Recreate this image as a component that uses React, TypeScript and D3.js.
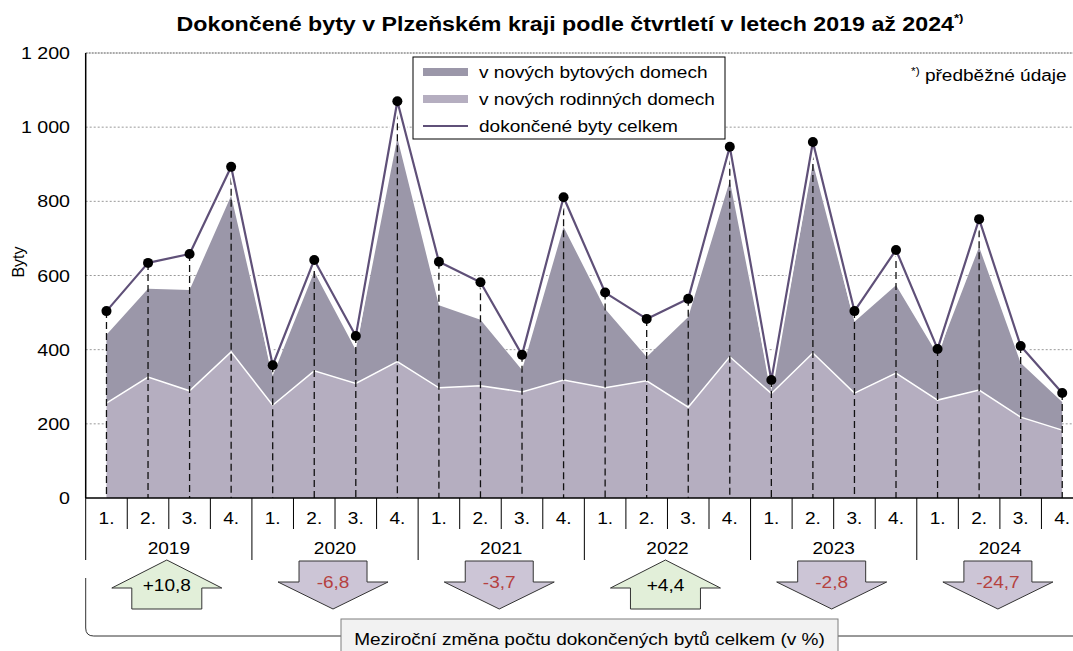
import * as d3 from 'd3';

// values
const years = ['2019', '2020', '2021', '2022', '2023', '2024'];
const quarters = ['1.', '2.', '3.', '4.'];
const celkem = [504, 634, 658, 893, 358, 642, 437, 1070, 637, 582, 386, 811, 554, 483, 537, 947, 318, 960, 504, 669, 402, 752, 410, 283];
const rodinne = [256, 326, 289, 394, 250, 343, 309, 368, 297, 303, 286, 318, 297, 316, 245, 381, 282, 391, 283, 337, 264, 291, 218, 183];
const bytove = [184, 238, 272, 421, 80, 267, 90, 603, 223, 178, 59, 413, 213, 64, 243, 474, 8, 512, 192, 237, 122, 386, 146, 76];
const mezirocni = [10.8, -6.8, -3.7, 4.4, -2.8, -24.7];
const yTicks = [0, 200, 400, 600, 800, 1000, 1200];

const W = 1073;
const H = 651;
const FONT = '"Liberation Sans", Arial, sans-serif';
const C_BYT = '#9b97a9';
const C_ROD = '#b5aec0';
const C_LINE = '#5f5078';
const SX = 1.19; // text in the reference is horizontally stretched

const left = 85.7;
const right = 1083;
const top = 53;
const bottom = 498;

// text with horizontal stretch
const T = ({ x, y, size = 16, anchor = 'start', fill = '#000', weight = 'normal', children }: any) => (
  <text transform={`translate(${x},${y}) scale(${SX},1)`} textAnchor={anchor} fontSize={size}
    fill={fill} fontWeight={weight}>
    {children}
  </text>
);

export default function App() {
  const idx = celkem.map((_, i) => i);
  const x = d3.scaleBand<number>().domain(idx).range([left, right]).padding(0);
  const bw = x.bandwidth();
  const cx = (i: number) => (x(i) as number) + bw / 2;
  const y = d3.scaleLinear().domain([0, 1200]).range([bottom, top]);

  const areaRod = d3.area<number>().x(i => cx(i)).y0(y(0)).y1(i => y(rodinne[i]));
  const areaByt = d3.area<number>().x(i => cx(i)).y0(i => y(rodinne[i])).y1(i => y(rodinne[i] + bytove[i]));
  const lineRod = d3.line<number>().x(i => cx(i)).y(i => y(rodinne[i]));
  const lineTot = d3.line<number>().x(i => cx(i)).y(i => y(celkem[i]));

  const fmt = (v: number) => (v > 0 ? '+' : '') + v.toFixed(1).replace('.', ',');
  const yearX = (k: number) => (x(k * 4) as number) + bw * 2;

  return (
    <svg width={W} height={H} style={{ position: 'absolute', left: 0, top: 0, fontFamily: FONT }}>
      <rect width={W} height={H} fill="#fff" />

      {/* titulek */}
      <T x={570} y={31} size={19.5} anchor="middle" weight="bold">
        Dokončené byty v Plzeňském kraji podle čtvrtletí v letech 2019 až 2024
        <tspan fontSize={11} dy={-9}>*)</tspan>
      </T>

      {/* mřížka */}
      {yTicks.filter(t => t > 0).map(t => (
        <line key={t} x1={left} x2={W} y1={y(t)} y2={y(t)}
          stroke={t === 1200 ? '#555' : '#999'} strokeWidth={1} strokeDasharray={t === 1200 ? '2,1' : '2,2'} />
      ))}

      {/* plochy */}
      <path d={areaRod(idx) as string} fill={C_ROD} />
      <path d={areaByt(idx) as string} fill={C_BYT} />
      <path d={lineRod(idx) as string} fill="none" stroke="#fff" strokeWidth={1.5} />

      {/* svislé čáry */}
      {idx.map(i => (
        <line key={i} x1={cx(i)} x2={cx(i)} y1={y(celkem[i])} y2={bottom}
          stroke="#111" strokeWidth={1.3} strokeDasharray="7,4" />
      ))}

      {/* celkem */}
      <path d={lineTot(idx) as string} fill="none" stroke="#fff" strokeWidth={6} strokeLinejoin="round" />
      <path d={lineTot(idx) as string} fill="none" stroke={C_LINE} strokeWidth={2.2} strokeLinejoin="round" />
      {idx.map(i => (
        <circle key={i} cx={cx(i)} cy={y(celkem[i])} r={5} fill="#000" />
      ))}

      {/* osy */}
      <line x1={left} x2={left} y1={top} y2={bottom} stroke="#000" strokeWidth={1.5} />
      <line x1={left} x2={W} y1={bottom} y2={bottom} stroke="#000" strokeWidth={1.5} />
      {yTicks.map(t => (
        <T key={t} x={70} y={y(t) + 6} anchor="end" size={16.5}>
          {d3.format(',')(t).replace(',', ' ')}
        </T>
      ))}
      <text transform={`translate(24,262) rotate(-90)`} textAnchor="middle" fontSize={16}>Byty</text>

      {/* kategorie */}
      {d3.range(25).map(k => (
        <line key={k} x1={left + k * bw} x2={left + k * bw} y1={bottom} y2={k % 4 === 0 ? 560 : 529}
          stroke="#000" strokeWidth={1} />
      ))}
      {idx.map(i => (
        <T key={i} x={cx(i)} y={524} anchor="middle">{quarters[i % 4]}</T>
      ))}
      {years.map((yr, k) => (
        <T key={yr} x={yearX(k)} y={554} anchor="middle">{yr}</T>
      ))}

      {/* šipky meziroční změny */}
      {mezirocni.map((v, k) => {
        const c = yearX(k) - 2;
        const pts = v > 0
          ? [[c, 560], [c + 55, 588], [c + 35, 588], [c + 35, 609], [c - 35, 609], [c - 35, 588], [c - 55, 588]]
          : [[c - 34, 561], [c + 34, 561], [c + 34, 582], [c + 55, 582], [c, 609], [c - 55, 582], [c - 34, 582]];
        return (
          <g key={k}>
            <polygon points={pts.map(p => p.join(',')).join(' ')} fill={v > 0 ? '#e2efd9' : '#ccc5d6'}
              stroke="#333" strokeWidth={1} />
            <T x={c} y={v > 0 ? 591 : 588} anchor="middle" fill={v > 0 ? '#000' : '#b5413f'}>{fmt(v)}</T>
          </g>
        );
      })}

      {/* závorka s popiskem */}
      <path d={`M${left},578 V628 Q${left},636 ${left + 8},636 H341`} fill="none" stroke="#333" strokeWidth={1} />
      <line x1={838} x2={W} y1={636} y2={636} stroke="#333" strokeWidth={1} />
      <rect x={341} y={619} width={497} height={45} fill="#f2f2f2" stroke="#7f7f7f" strokeWidth={1} />
      <T x={589.5} y={645} anchor="middle">
        Meziroční změna počtu dokončených bytů celkem (v %)
      </T>

      {/* legenda */}
      <rect x={413} y={57} width={312} height={82} fill="#fff" stroke="#000" strokeWidth={1} />
      <rect x={423} y={68} width={45} height={8} fill={C_BYT} />
      <rect x={423} y={95} width={45} height={8} fill={C_ROD} />
      <line x1={423} x2={468} y1={126} y2={126} stroke={C_LINE} strokeWidth={2} />
      <T x={479} y={78}>v nových bytových domech</T>
      <T x={479} y={105}>v nových rodinných domech</T>
      <T x={479} y={132}>dokončené byty celkem</T>

      {/* poznámka */}
      <T x={911} y={81}>
        <tspan fontSize={10} dy={-6}>*)</tspan>
        <tspan dy={6}> předběžné údaje</tspan>
      </T>
    </svg>
  );
}
